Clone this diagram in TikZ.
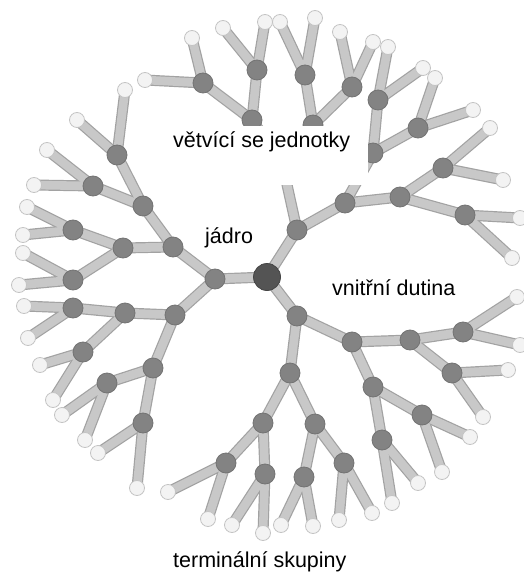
\documentclass[tikz,border=0pt]{standalone}
\usepackage{fontspec}
\setmainfont{Liberation Sans}
\definecolor{bondfill}{HTML}{C8C8C8}
\definecolor{bondedge}{HTML}{A2A2A2}
\definecolor{branchfill}{HTML}{838383}
\definecolor{branchedge}{HTML}{737373}
\definecolor{corefill}{HTML}{545454}
\definecolor{coreedge}{HTML}{444444}
\definecolor{termfill}{HTML}{F3F3F3}
\definecolor{termedge}{HTML}{C4C4C4}
\tikzset{
  bondout/.style={draw=bondedge,line width=11pt},
  bondin/.style={draw=bondfill,line width=8.6pt},
  branch/.style={circle,fill=branchfill,draw=branchedge,line width=0.8pt,minimum size=20pt,inner sep=0pt},
  corenode/.style={circle,fill=corefill,draw=coreedge,line width=0.8pt,minimum size=27pt,inner sep=0pt},
  term/.style={circle,fill=termfill,draw=termedge,line width=0.8pt,minimum size=15pt,inner sep=0pt},
  lbl/.style={inner sep=0pt,anchor=base west,font=\fontsize{21.5}{24}\selectfont}
}
\begin{document}
\begin{tikzpicture}[x=1pt,y=-1pt]
\useasboundingbox[fill=white] (0,0) rectangle (523,572);
% positions
\foreach \n/\x/\y in {
 C/267/277,
 L/215/279, L1/173/247, L2/175/315,
 L11/143/206, L12/123/248, L21/125/313, L22/153/368,
 L111/117/155, L112/93/186, L121/73/230, L122/73/280,
 L211/73/308, L212/83/352, L221/107/383, L222/143/423,
 T/297/230, T1/282/162, T2/345/203,
 T11/252/120, T12/313/125, T21/373/153, T22/400/197,
 T111/203/83, T112/257/70, T121/305/75, T122/352/87,
 T211/378/100, T212/418/128, T221/443/168, T222/465/215,
 B/297/316, B1/290/373, B2/352/342,
 B11/263/423, B12/315/424, B21/373/387, B22/410/340,
 B111/226/463, B112/265/474, B121/304/477, B122/344/463,
 B211/382/440, B212/422/415, B221/463/332, B222/452/373}
 \coordinate (\n) at (\x,\y);
\foreach \n/\x/\y in {
 L111a/125/90, L111b/77/120, L112a/47/150, L112b/34/185,
 L121a/27/207, L121b/23/235, L122a/23/253, L122b/19/285,
 L211a/24/306, L211b/28/338, L212a/40/365, L212b/53/400,
 L221a/62/415, L221b/85/440, L222a/98/453, L222b/137/488,
 T111a/192/38, T111b/145/80, T112a/223/28, T112b/265/22,
 T121a/280/22, T121b/315/18, T122a/340/32, T122b/373/42,
 T211a/388/47, T211b/423/68, T212a/435/78, T212b/473/110,
 T221a/490/128, T221b/503/180, T222a/520/218, T222b/512/258,
 B111a/168/492, B111b/208/519, B112a/232/525, B112b/263/533,
 B121a/281/525, B121b/313/526, B122a/339/520, B122b/372/513,
 B211a/392/503, B211b/418/483, B212a/442/472, B212b/470/437,
 B221a/517/297, B221b/520/345, B222a/508/370, B222b/483/417}
 \coordinate (\n) at (\x,\y);
% bonds core/branch
\def\inner{C/L,C/T,C/B,
 L/L1,L/L2,L1/L11,L1/L12,L2/L21,L2/L22,
 L11/L111,L11/L112,L12/L121,L12/L122,L21/L211,L21/L212,L22/L221,L22/L222,
 T/T1,T/T2,T1/T11,T1/T12,T2/T21,T2/T22,
 T11/T111,T11/T112,T12/T121,T12/T122,T21/T211,T21/T212,T22/T221,T22/T222,
 B/B1,B/B2,B1/B11,B1/B12,B2/B21,B2/B22,
 B11/B111,B11/B112,B12/B121,B12/B122,B21/B211,B21/B212,B22/B221,B22/B222}
\def\leaves{L111,L112,L121,L122,L211,L212,L221,L222,
 T111,T112,T121,T122,T211,T212,T221,T222,
 B111,B112,B121,B122,B211,B212,B221,B222}
\foreach \a/\b in \inner \draw[bondout] (\a) -- (\b);
\foreach \a in \leaves {\draw[bondout] (\a) -- (\a a); \draw[bondout] (\a) -- (\a b);}
\foreach \a/\b in \inner \draw[bondin] (\a) -- (\b);
\foreach \a in \leaves {\draw[bondin] (\a) -- (\a a); \draw[bondin] (\a) -- (\a b);}
% nodes
\foreach \a in \leaves {
  \node[term] (n\a a) at (\a a) {};
  \node[term] (n\a b) at (\a b) {};
}
\foreach \a in {L,L1,L2,L11,L12,L21,L22,T,T1,T2,T11,T12,T21,T22,B,B1,B2,B11,B12,B21,B22}
  \node[branch] (n\a) at (\a) {};
\foreach \a in \leaves \node[branch] (n\a) at (\a) {};
\node[corenode] (nC) at (C) {};
% label backing
\fill[white] (168,126) rectangle (367.5,184.5);
% labels
\node[lbl] (lab1) at (173,148) {větvící se jednotky};
\node[lbl] (lab2) at (205,243) {jádro};
\node[lbl] (lab3) at (332,295) {vnitřní dutina};
\node[lbl] (lab4) at (173,567) {terminální skupiny};
\end{tikzpicture}
\end{document}
